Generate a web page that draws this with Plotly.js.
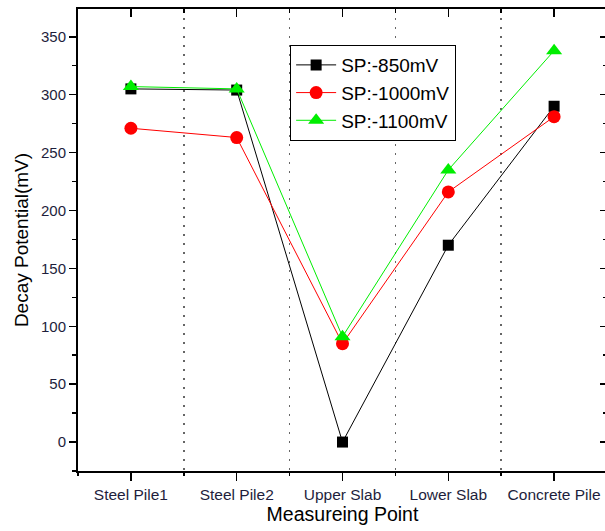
<!DOCTYPE html>
<html><head><meta charset="utf-8">
<script src="https://cdn.plot.ly/plotly-3.0.1.min.js"></script>
<style>html,body{margin:0;padding:0;overflow:hidden;background:#fff}#chart{width:620px;height:531px}</style>
</head><body><div id="chart"></div>
<script>
const categories = ["Steel Pile1", "Steel Pile2", "Upper Slab", "Lower Slab", "Concrete Pile"];
const positions = [0, 1, 2, 3, 4];
const sp850 = [305, 304, 0, 170, 290];
const sp1000 = [271, 263, 85, 216, 281];
const sp1100 = [307, 305, 91, 235, 338];
const seriesNames = ["SP:-850mV", "SP:-1000mV", "SP:-1100mV"];
const yTicks = [0, 50, 100, 150, 200, 250, 300, 350];

const fam = "Liberation Sans, Arial, sans-serif";
const traces = [
  {x: positions, y: sp850, name: seriesNames[0], mode: "lines+markers",
   line: {color: "#000000", width: 1}, marker: {symbol: "square", size: 11, color: "#000000"}},
  {x: positions, y: sp1000, name: seriesNames[1], mode: "lines+markers",
   line: {color: "#ff0000", width: 1}, marker: {symbol: "circle", size: 13, color: "#ff0000"}},
  {x: positions, y: sp1100, name: seriesNames[2], mode: "lines+markers",
   line: {color: "#00ee00", width: 1}, marker: {symbol: "triangle-up", size: 14, color: "#00ee00"}}
];
const xr = [-0.5, 4.5], yr = [-25, 374];
const layout = {
  width: 620, height: 531,
  margin: {l: 78, r: 13, t: 9, b: 60},
  paper_bgcolor: "#fff", plot_bgcolor: "#fff",
  showlegend: true,
  legend: {x: 0.401, y: 0.922, xanchor: "left", yanchor: "top", bordercolor: "#000", borderwidth: 1,
           bgcolor: "#fff", font: {family: fam, size: 19, color: "#000"},
           tracegroupgap: 0, itemwidth: 40},
  xaxis: {range: xr, tickvals: positions, ticktext: categories, showline: true, linewidth: 2, linecolor: "#000",
          ticks: "outside", ticklen: 8, tickwidth: 1.5, tickcolor: "#000", showgrid: false, zeroline: false,
          tickfont: {family: fam, size: 15.5, color: "#1e1e3c"},
          minor: {tick0: 0.5, dtick: 1, ticks: "outside", ticklen: 3, tickcolor: "#000", showgrid: true,
                  gridcolor: "#666", griddash: "2px,7px", gridwidth: 1.5},
          title: {text: "Measureing Point", font: {family: fam, size: 19.5, color: "#000"}, standoff: 3}},
  yaxis: {range: yr, tickvals: yTicks, showline: true, linewidth: 2, linecolor: "#000",
          ticks: "outside", ticklen: 7, tickwidth: 1.5, tickcolor: "#000", showgrid: false, zeroline: false,
          tickfont: {family: fam, size: 15, color: "#1e1e3c"},
          minor: {dtick: 25, tick0: 25, ticks: "outside", ticklen: 4, tickcolor: "#000", showgrid: false},
          title: {text: "Decay Potential(mV)", font: {family: fam, size: 19, color: "#000"}, standoff: 7}},
  xaxis2: {overlaying: "x", side: "top", range: xr, tickvals: positions, showticklabels: false, showline: true,
           linewidth: 2, linecolor: "#000", ticks: "inside", ticklen: 8, tickwidth: 1.5, tickcolor: "#000",
           showgrid: false, zeroline: false,
           minor: {tick0: 0.5, dtick: 1, ticks: "inside", ticklen: 4, tickcolor: "#000"}},
  yaxis2: {overlaying: "y", side: "right", range: yr, tickvals: yTicks, showticklabels: false, showline: true,
           linewidth: 2, linecolor: "#000", ticks: "inside", ticklen: 7, tickwidth: 1.5, tickcolor: "#000",
           showgrid: false, zeroline: false,
           minor: {dtick: 25, tick0: 25, ticks: "inside", ticklen: 4, tickcolor: "#000"}}
};
// invisible helper trace so the mirrored axes are drawn
traces.push({x: [positions[0]], y: [yTicks[0]], xaxis: "x2", yaxis: "y2", mode: "markers",
             marker: {opacity: 0}, showlegend: false, hoverinfo: "skip"});
Plotly.newPlot("chart", traces, layout, {displayModeBar: false, staticPlot: true});
</script></body></html>
